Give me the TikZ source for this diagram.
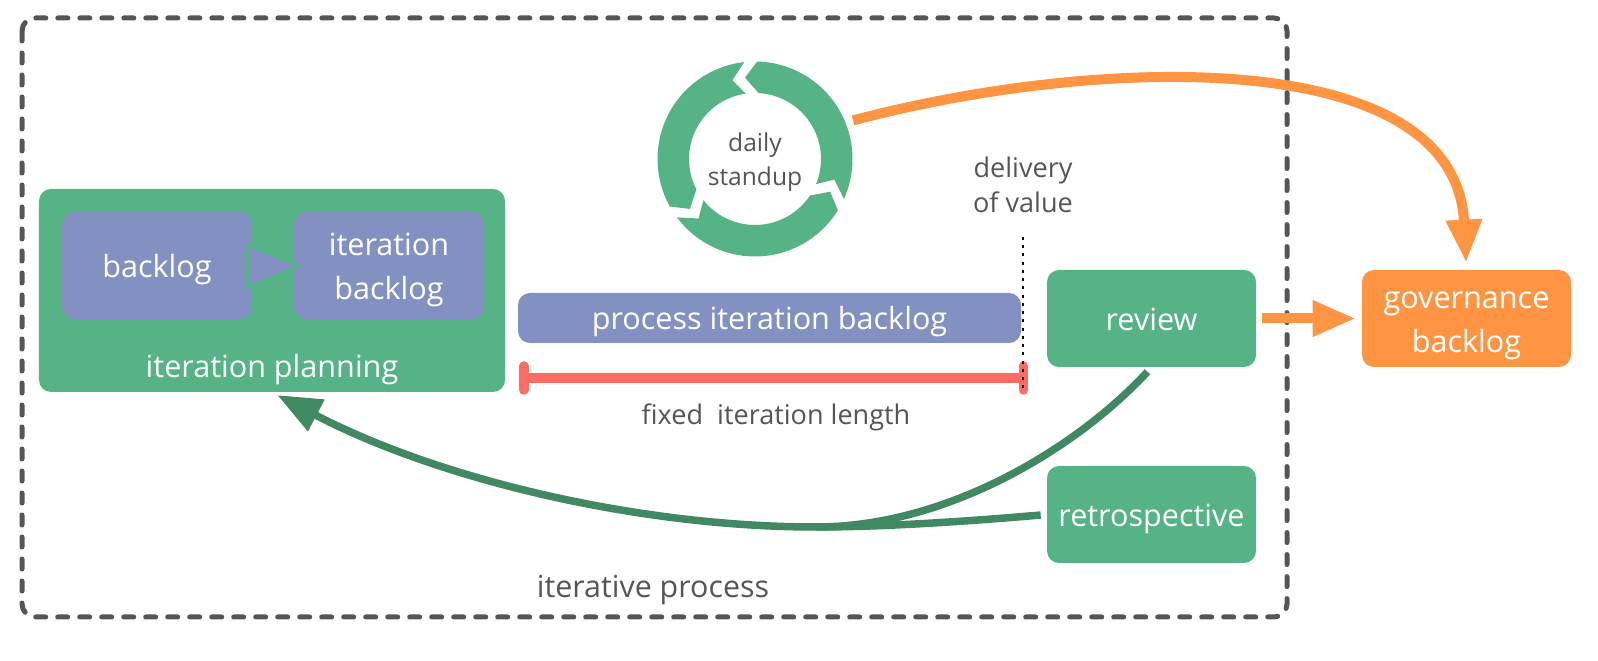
\documentclass[tikz,border=0pt]{standalone}
\usepackage{fontspec}
\setmainfont{Open Sans}
\usetikzlibrary{arrows.meta,calc}
\definecolor{boxgreen}{HTML}{56B385}
\definecolor{arrowgreen}{HTML}{408962}
\definecolor{itemblue}{HTML}{8291C1}
\definecolor{govorange}{HTML}{FF9543}
\definecolor{lenred}{HTML}{FF6C62}
\definecolor{textgray}{HTML}{555555}
% one piece of the standup ring: #1-start gap angle #2-end gap angle
\newcommand{\ringpart}[2]{%
    \fill[boxgreen] (#1+3.8:97.5) arc[start angle=#1+3.8, end angle=#2-3.8, radius=97.5]
        -- (#2+4.5:82) -- (#2-5.6:66)
        arc[start angle=#2-5.6, end angle=#1+5.6, radius=66]
        -- (#1+13.5:82) -- cycle;
}
\newcommand{\whitestrut}{\rule[-5.05pt]{0pt}{23.65pt}}
\newcommand{\labelstrut}{\rule[-0.29em]{0pt}{1.36em}}

\begin{document}
\begin{tikzpicture}[x=0.2mm, y=-0.2mm,
    whitetext/.style={text=white, font=\fontsize{17.4}{23.3}\selectfont, align=center, inner sep=0pt,
        execute at begin node=\whitestrut, execute at end node=\whitestrut},
    greenbox/.style={whitetext, fill=boxgreen, rounded corners=2.4mm},
    bluebox/.style={whitetext, fill=itemblue, rounded corners=2.4mm},
    govbox/.style={whitetext, fill=govorange, rounded corners=2.4mm},
    graytext/.style={text=textgray, font=\fontsize{15.4}{20}\selectfont, align=center, inner sep=0pt},
    frame/.style={draw=textgray, line width=1mm, dash pattern=on 2mm off 2.4mm, line cap=round, rounded corners=2.6mm},
    handoff/.style={fill=itemblue, draw=boxgreen, line width=0.6mm, line join=round},
    backarrow/.style={draw=arrowgreen, line width=1.5mm, -{Triangle[length=8.8mm, width=6.8mm]}},
    govarrow/.style={draw=govorange, line width=2mm, -{Triangle[length=8.6mm, width=6.8mm]}},
    lenline/.style={draw=lenred, line width=1.9mm, {Bar[width=4.8mm, round]}-{Bar[width=4.8mm, round]}},
    deliveryline/.style={draw=black, line width=0.45mm, dash pattern=on 0.6mm off 1.05mm}]
    \useasboundingbox (0,0) rectangle (1598,661);
    \draw[frame] (22,18) rectangle (1287,617);
    \node[graytext, font=\fontsize{17.3}{22}\selectfont] (itlabel) at (653,590) {iterative process};

    % iteration planning
    \node[greenbox, minimum width=93.2mm, minimum height=40.6mm] (plan) at (272,290.5) {};
    \node[bluebox, minimum width=38mm, minimum height=21.4mm] (backlog) at (157,265.5) {backlog};
    \node[bluebox, minimum width=38mm, minimum height=21.4mm] (itbacklog) at (389,265.5) {\labelstrut iteration\\backlog\labelstrut};
    \filldraw[handoff] ($(backlog.east)+(-5,-20.5)$) -- ($(backlog.east)+(-5,22.5)$) -- ($(itbacklog.west)+(6,0)$) -- cycle;
    \node[whitetext] (planlabel) at (272,366) {iteration planning};

    % daily standup ring
    \node[circle, minimum size=39mm, inner sep=0pt, text=textgray, font=\fontsize{14}{19.4}\selectfont, align=center] (standup) at (755,159) {\labelstrut daily\\standup\labelstrut};
    \begin{scope}[shift={(755,159)}, yscale=-1]
        \foreach \a/\b in {-28/92.5, 92.5/213, 213/332} {\ringpart{\a}{\b}}
    \end{scope}

    % iteration
    \node[bluebox, minimum width=100.6mm, minimum height=10mm] (procbar) at (769.5,318) {process iteration backlog};
    \coordinate (lenstart) at (519,378);
    \coordinate (lenend) at (1028,378);
    \draw[lenline] (lenstart) -- (lenend);
    \node[graytext] (lenlabel) at (776,417) {fixed\ \ iteration length};
    \node[graytext] (delivery) at (1023,184.5) {delivery\\of value};
    \coordinate (deltop) at (1023,237);
    \coordinate (delbot) at (1023,390);
    \draw[deliveryline] (deltop) -- (delbot);

    \node[greenbox, minimum width=41.8mm, minimum height=19.4mm] (review) at (1151.5,318.5) {review};
    \node[greenbox, minimum width=41.8mm, minimum height=19.4mm] (retro) at (1151.5,514.5) {retrospective};
    \node[govbox, minimum width=41.8mm, minimum height=19.4mm] (gov) at (1466.5,318.5) {\labelstrut governance\\backlog\labelstrut};

    % feedback into planning
    \coordinate (merge) at (816,527);
    \draw[draw=arrowgreen, line width=1.5mm, shorten <=1.2mm] (retro.west) .. controls (960,522) and (880,527) .. (merge);
    \draw[draw=arrowgreen, line width=1.5mm, shorten <=1.2mm] (review.south) .. controls (1080,445) and (950,527) .. (merge);
    \draw[backarrow, shorten >=1.2mm] (merge) .. controls (640,527) and (440,480) .. (plan.south);

    % to governance
    \draw[govarrow, shorten <=1.2mm, shorten >=1.2mm] (review.east) -- (gov.west);
    \draw[govarrow, shorten <=1.5mm, shorten >=1.4mm] (standup.22) .. controls (1100,55) and (1455,45) .. (gov.north);
\end{tikzpicture}
\end{document}
